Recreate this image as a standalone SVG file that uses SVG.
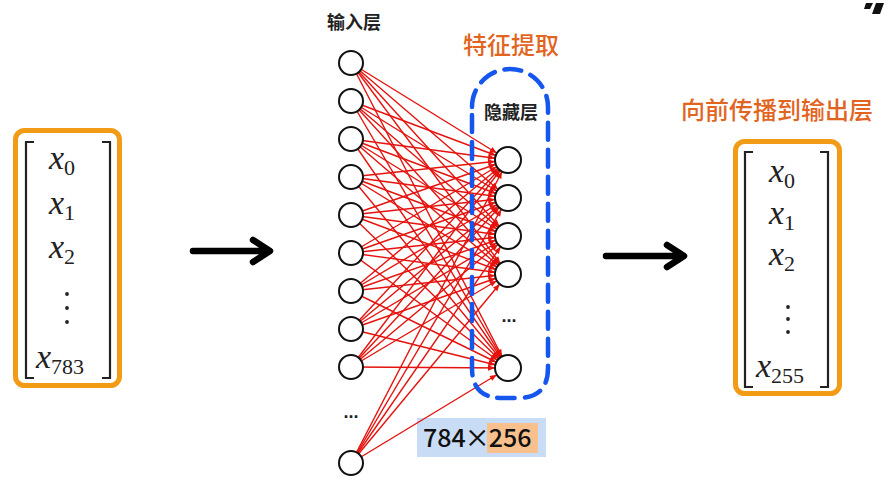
<svg xmlns="http://www.w3.org/2000/svg" width="888" height="482" viewBox="0 0 888 482">
<defs>
<style>
.box{fill:none;stroke:#F19B17;stroke-width:5}
.brk{fill:none;stroke:#222;stroke-width:2.2}
.math{font-family:"Liberation Serif",serif;font-size:34px;fill:#222}
.math .v{font-style:italic}
.math .s{font-size:22px}
.dot{fill:#222}
.inn{fill:#fff;stroke:#111;stroke-width:2}
.red{stroke:#E5120D;stroke-width:1.4;fill:none}
.lbl{font-family:"Noto Sans CJK SC","Noto Sans",sans-serif;font-weight:bold;fill:#222;text-anchor:middle}
.ell{font-family:"Liberation Sans",sans-serif;font-weight:bold;fill:#222;text-anchor:middle;font-size:18px}
.org{font-family:"Noto Sans CJK SC","Noto Sans",sans-serif;font-weight:500;fill:#E2651F;text-anchor:middle;font-size:24px}
.big{stroke:#000;stroke-width:6.5;fill:none;stroke-linecap:round;stroke-linejoin:round}
</style>
<marker id="ah" markerUnits="userSpaceOnUse" viewBox="-25 -5 30 10" markerWidth="30" markerHeight="10" refX="0" refY="0" orient="auto" overflow="visible">
<path d="M-13,0 L-20,-2.8 L-20,2.8 Z" fill="#E5120D"/>
</marker>
</defs>
<rect width="888" height="482" fill="#fff"/>

<g id="watermark">
<polygon points="866,3 873,3 870,9 864,9" fill="#111"/>
<polygon points="876,3 884,3 880,14 872,14" fill="#111"/>
</g>

<g id="input-vector">
<rect class="box" x="15.5" y="130.5" width="104" height="255" rx="9"/>
<path class="brk" d="M34,142 H26 V378 H34"/>
<path class="brk" d="M102,142 H110 V378 H102"/>
<text class="math" x="49" y="169"><tspan class="v">x</tspan><tspan class="s" dy="6">0</tspan></text>
<text class="math" x="49" y="214"><tspan class="v">x</tspan><tspan class="s" dy="6">1</tspan></text>
<text class="math" x="49" y="258"><tspan class="v">x</tspan><tspan class="s" dy="6">2</tspan></text>
<circle class="dot" cx="67" cy="294" r="1.9"/>
<circle class="dot" cx="67" cy="308" r="1.9"/>
<circle class="dot" cx="67" cy="322" r="1.9"/>
<text class="math" x="36" y="368"><tspan class="v">x</tspan><tspan class="s" dy="6">783</tspan></text>
</g>

<g id="arrow-left">
<path class="big" d="M193,251 H268 M253,240 L270,251 L253,262"/>
</g>

<g id="arrow-right">
<path class="big" d="M606,256 H682 M667,245 L684,256 L667,267"/>
</g>

<g id="output-vector">
<text class="org" x="777" y="119">向前传播到输出层</text>
<rect class="box" x="735.5" y="141.5" width="104" height="252" rx="9"/>
<path class="brk" d="M753,152 H745 V387 H753"/>
<path class="brk" d="M820,152 H828 V387 H820"/>
<text class="math" x="769" y="182"><tspan class="v">x</tspan><tspan class="s" dy="6">0</tspan></text>
<text class="math" x="769" y="224"><tspan class="v">x</tspan><tspan class="s" dy="6">1</tspan></text>
<text class="math" x="769" y="265"><tspan class="v">x</tspan><tspan class="s" dy="6">2</tspan></text>
<circle class="dot" cx="788" cy="307" r="1.9"/>
<circle class="dot" cx="788" cy="319" r="1.9"/>
<circle class="dot" cx="788" cy="332" r="1.9"/>
<text class="math" x="756" y="377"><tspan class="v">x</tspan><tspan class="s" dy="6">255</tspan></text>
</g>

<g id="labels">
<text class="lbl" x="354" y="29" font-size="18">输入层</text>
<text class="org" x="511" y="54">特征提取</text>
<text class="lbl" x="511" y="119" font-size="18">隐藏层</text>
</g>

<g id="weights-label">
<rect x="417" y="418" width="129" height="39" fill="#C9DCF6"/>
<rect x="487" y="423" width="51" height="30" fill="#F8C08C"/>
<text x="423" y="447" font-family="'Noto Sans CJK SC','Noto Sans',sans-serif" font-weight="500" font-size="25" fill="#111">784<tspan dx="-1">×</tspan><tspan dx="-1">256</tspan></text>
</g>

<g id="connectors">
<g class="red" marker-end="url(#ah)">
<line x1="351" y1="63" x2="508" y2="160"/><line x1="351" y1="63" x2="508" y2="198"/><line x1="351" y1="63" x2="508" y2="236"/><line x1="351" y1="63" x2="508" y2="274"/><line x1="351" y1="63" x2="508" y2="368"/>
<line x1="351" y1="101" x2="508" y2="160"/><line x1="351" y1="101" x2="508" y2="198"/><line x1="351" y1="101" x2="508" y2="236"/><line x1="351" y1="101" x2="508" y2="274"/><line x1="351" y1="101" x2="508" y2="368"/>
<line x1="351" y1="139" x2="508" y2="160"/><line x1="351" y1="139" x2="508" y2="198"/><line x1="351" y1="139" x2="508" y2="236"/><line x1="351" y1="139" x2="508" y2="274"/><line x1="351" y1="139" x2="508" y2="368"/>
<line x1="351" y1="177" x2="508" y2="160"/><line x1="351" y1="177" x2="508" y2="198"/><line x1="351" y1="177" x2="508" y2="236"/><line x1="351" y1="177" x2="508" y2="274"/><line x1="351" y1="177" x2="508" y2="368"/>
<line x1="351" y1="215" x2="508" y2="160"/><line x1="351" y1="215" x2="508" y2="198"/><line x1="351" y1="215" x2="508" y2="236"/><line x1="351" y1="215" x2="508" y2="274"/><line x1="351" y1="215" x2="508" y2="368"/>
<line x1="351" y1="253" x2="508" y2="160"/><line x1="351" y1="253" x2="508" y2="198"/><line x1="351" y1="253" x2="508" y2="236"/><line x1="351" y1="253" x2="508" y2="274"/><line x1="351" y1="253" x2="508" y2="368"/>
<line x1="351" y1="291" x2="508" y2="160"/><line x1="351" y1="291" x2="508" y2="198"/><line x1="351" y1="291" x2="508" y2="236"/><line x1="351" y1="291" x2="508" y2="274"/><line x1="351" y1="291" x2="508" y2="368"/>
<line x1="351" y1="329" x2="508" y2="160"/><line x1="351" y1="329" x2="508" y2="198"/><line x1="351" y1="329" x2="508" y2="236"/><line x1="351" y1="329" x2="508" y2="274"/><line x1="351" y1="329" x2="508" y2="368"/>
<line x1="351" y1="367" x2="508" y2="160"/><line x1="351" y1="367" x2="508" y2="198"/><line x1="351" y1="367" x2="508" y2="236"/><line x1="351" y1="367" x2="508" y2="274"/><line x1="351" y1="367" x2="508" y2="368"/>
<line x1="351" y1="463" x2="508" y2="160"/><line x1="351" y1="463" x2="508" y2="198"/><line x1="351" y1="463" x2="508" y2="236"/><line x1="351" y1="463" x2="508" y2="274"/><line x1="351" y1="463" x2="508" y2="368"/>
</g>
</g>

<g id="hidden-group-outline">
<path d="M472,107 A38,38 0 0 1 548,107 L548,368 Q548,398 518,398 L502,398 Q472,398 472,368 Z" fill="none" stroke="#1456EE" stroke-width="4.5" stroke-dasharray="17 10" stroke-linecap="round"/>
</g>

<g id="input-layer">
<circle class="inn" cx="351" cy="63" r="12"/>
<circle class="inn" cx="351" cy="101" r="12"/>
<circle class="inn" cx="351" cy="139" r="12"/>
<circle class="inn" cx="351" cy="177" r="12"/>
<circle class="inn" cx="351" cy="215" r="12"/>
<circle class="inn" cx="351" cy="253" r="12"/>
<circle class="inn" cx="351" cy="291" r="12"/>
<circle class="inn" cx="351" cy="329" r="12"/>
<circle class="inn" cx="351" cy="367" r="12"/>
<text class="ell" x="351" y="418">...</text>
<circle class="inn" cx="351" cy="463" r="12"/>
</g>

<g id="hidden-layer">
<circle class="inn" cx="508" cy="160" r="13"/>
<circle class="inn" cx="508" cy="198" r="13"/>
<circle class="inn" cx="508" cy="236" r="13"/>
<circle class="inn" cx="508" cy="274" r="13"/>
<text class="ell" x="509" y="322">...</text>
<circle class="inn" cx="508" cy="368" r="13"/>
</g>
</svg>
